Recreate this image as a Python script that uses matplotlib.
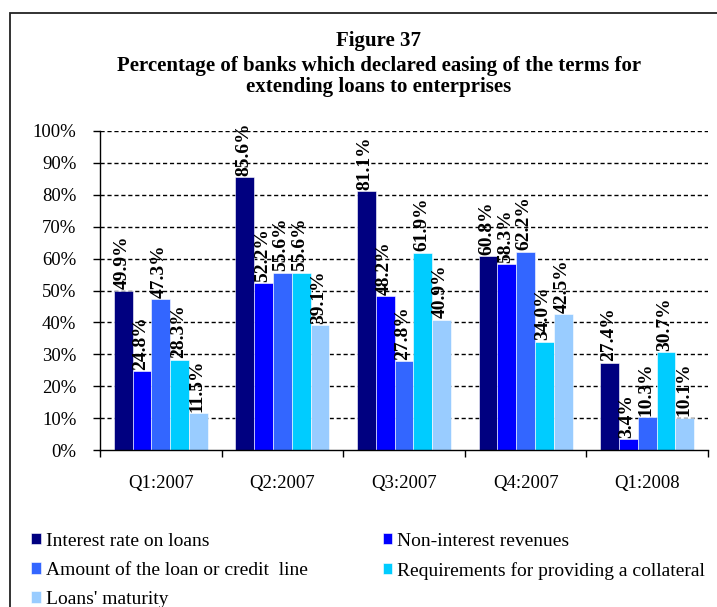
import matplotlib
matplotlib.use("Agg")
import matplotlib.pyplot as plt
import matplotlib.patches as patches
import numpy as np

plt.rcParams['font.family'] = ['Liberation Serif', 'DejaVu Serif']

quarters = ['Q1:2007', 'Q2:2007', 'Q3:2007', 'Q4:2007', 'Q1:2008']
series_names = [
    'Interest rate on loans',
    'Non-interest revenues',
    'Amount of the loan or credit  line',
    'Requirements for providing a collateral',
    "Loans' maturity",
]
interest_rate = [49.9, 85.6, 81.1, 60.8, 27.4]
non_interest = [24.8, 52.2, 48.2, 58.3, 3.4]
loan_amount = [47.3, 55.6, 27.8, 62.2, 10.3]
collateral = [28.3, 55.6, 61.9, 34.0, 30.7]
maturity = [11.5, 39.1, 40.9, 42.5, 10.1]
colors = ['#000080', '#0000FF', '#3366FF', '#00CCFF', '#99CCFF']

all_series = [interest_rate, non_interest, loan_amount, collateral, maturity]

fig = plt.figure(figsize=(7.17, 6.07), dpi=100)
ax = fig.add_axes([0.1395, 0.2586, 0.848, 0.5256])

# outer frame of the chart object (runs off the right and bottom edge)
fig.patches.append(patches.Rectangle((10 / 717, -0.1), 1.2, 1.1 - 13 / 607,
                                     transform=fig.transFigure, fill=False,
                                     edgecolor='#222222', linewidth=1.3))

x = np.arange(len(quarters))
width = 0.1546
for j, (name, vals, c) in enumerate(zip(series_names, all_series, colors)):
    pos = x + (j - 2) * width
    ax.bar(pos, vals, width=width, color=c, edgecolor='white', linewidth=0.4,
           label=name, zorder=3)
    for px, v in zip(pos, vals):
        ax.annotate(f'{v:.1f}%', (px, v), xytext=(-1, 1), textcoords='offset points',
                    rotation=90, ha='center', va='bottom', fontsize=14,
                    fontweight='bold', zorder=4)

ax.set_xlim(-0.5, 4.5)
ax.set_ylim(0, 100)
ax.set_yticks(np.arange(0, 101, 10))
ax.set_yticklabels([f'{v}%' for v in range(0, 101, 10)], fontsize=13.5)
ax.set_xticks(x)
ax.set_xticklabels(quarters, fontsize=13.5)
ax.set_xticks(np.arange(-0.5, 5, 1), minor=True)
ax.tick_params(axis='x', which='major', length=0, pad=18)
ax.tick_params(axis='x', which='minor', length=5, direction='out', width=1)
ax.tick_params(axis='y', length=5, direction='out', width=1, pad=12)

for v in range(10, 101, 10):
    ax.axhline(v, color='black', linestyle=(0, (3, 2)), linewidth=1, zorder=1)

for side in ['top', 'right']:
    ax.spines[side].set_visible(False)
for side in ['left', 'bottom']:
    ax.spines[side].set_linewidth(1)
    ax.spines[side].set_zorder(5)

fig.text(0.528, 0.932, 'Figure 37', ha='center', va='center', fontsize=15, fontweight='bold')
fig.text(0.528, 0.874, 'Percentage of banks which declared easing of the terms for\nextending loans to enterprises',
         ha='center', va='center', fontsize=15, fontweight='bold', linespacing=1.1)

handles, labels = ax.get_legend_handles_labels()
order = [0, 2, 4, 1, 3]
fig.legend([handles[i] for i in order], [labels[i] for i in order], ncol=2,
           loc='upper left', bbox_to_anchor=(0.033, 0.135), frameon=False,
           fontsize=14, handlelength=0.5, handleheight=0.5, handletextpad=0.25,
           columnspacing=3.85, labelspacing=0.62, borderaxespad=0)

fig.savefig('out.png', dpi=100)
